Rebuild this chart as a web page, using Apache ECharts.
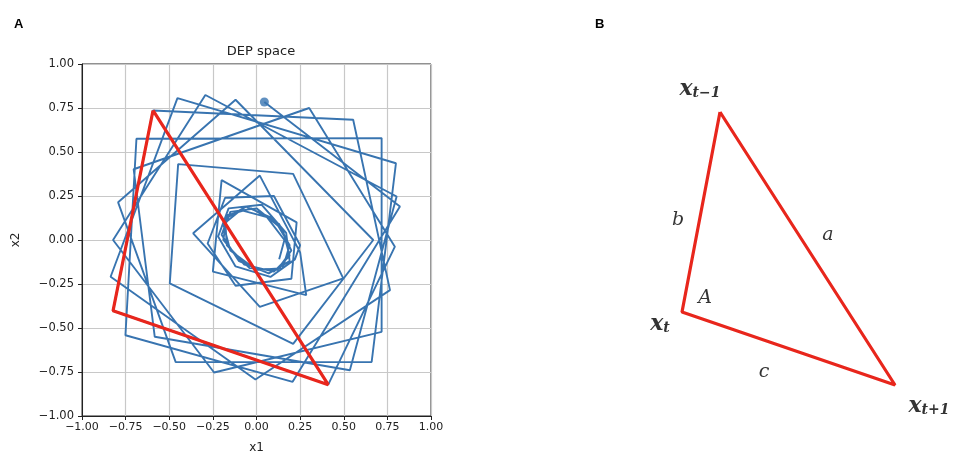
<!DOCTYPE html>
<html>
<head>
<meta charset="utf-8">
<script src="https://cdn.jsdelivr.net/npm/echarts@6/dist/echarts.min.js"></script>
<style>
  html, body { margin: 0; padding: 0; background: #fff; }
  #chart { width: 957px; height: 470px; }
</style>
</head>
<body>
<div id="chart"></div>
<script>
// panel A: trajectory in DEP space
// inner knot around the origin
const knotPts = [
  [0.13, -0.11], [0.16, 0.00], [0.06, 0.13], [-0.09, 0.17], [-0.19, 0.09],
  [-0.15, -0.06], [0.00, -0.17], [0.15, -0.16], [0.19, -0.03], [0.10, 0.12],
  [-0.06, 0.19], [-0.18, 0.12], [-0.17, -0.03], [-0.04, -0.16], [0.12, -0.17],
  [0.20, -0.06], [0.13, 0.09], [-0.03, 0.18], [-0.17, 0.14], [-0.19, 0.00],
  [-0.07, -0.14], [0.10, -0.18], [0.19, -0.09], [0.15, 0.06], [0.00, 0.18],
  [-0.15, 0.16], [-0.20, 0.03], [-0.10, -0.12], [0.07, -0.19], [0.19, -0.12],
  [0.17, 0.04], [0.03, 0.20], [-0.16, 0.18], [-0.22, 0.02], [-0.12, -0.15],
  [0.08, -0.21], [0.22, -0.11]
];
// middle rings
const midPts = [
  [0.25, -0.03], [0.10, 0.25], [-0.18, 0.24], [-0.28, -0.02], [-0.12, -0.26],
  [0.20, -0.22], [0.23, 0.10], [-0.20, 0.34], [-0.25, -0.18], [0.285, -0.313],
  [0.25, -0.07], [0.019, 0.366], [-0.363, 0.038], [0.019, -0.38],
  [0.497, -0.218], [0.21, 0.376], [-0.449, 0.431], [-0.497, -0.247],
  [0.21, -0.59], [0.669, 0.0]
];
// outer rings
const outerPts = [
  [-0.120, 0.797], [-0.793, 0.214], [-0.463, -0.694], [0.660, -0.693],
  [0.799, 0.436], [-0.453, 0.806], [-0.836, -0.209], [-0.006, -0.793],
  [0.765, -0.285], [0.554, 0.683], [-0.593, 0.736], [-0.822, -0.402],
  [0.411, -0.822], [0.793, -0.038], [0.302, 0.750], [-0.704, 0.402],
  [-0.583, -0.550], [0.535, -0.740], [0.803, 0.247], [-0.293, 0.824],
  [-0.822, 0.0], [-0.243, -0.753], [0.717, -0.522], [0.717, 0.579],
  [-0.688, 0.575], [-0.751, -0.541], [0.207, -0.806], [0.822, 0.190]
];
const endPt = [0.045, 0.784];
// red triangle x_{t-1}, x_t, x_{t+1} in DEP space
const redTri = [[-0.593, 0.736], [-0.822, -0.402], [0.411, -0.822], [-0.593, 0.736]];

// panel B: triangle sketch
const sketchTri = [[140, 52], [102, 252], [315, 325], [140, 52]];
const vertexLabels = [
  { pos: [120, 27], sub: 't−1' },
  { pos: [80, 262], sub: 't' },
  { pos: [349, 344], sub: 't+1' }
];
const sideLabels = [
  { pos: [98, 160], text: 'b' },
  { pos: [248, 175], text: 'a' },
  { pos: [125, 238], text: 'A' },
  { pos: [184, 312], text: 'c' }
];

const trajectory = knotPts.concat(midPts, outerPts, [endPt]);
const fmt = v => (v < 0 ? '\u2212' : '') + Math.abs(v).toFixed(2);
const mathFont = 'DejaVu Serif';
const blue = '#3874b0';
const red = '#e8261c';

const chart = echarts.init(document.getElementById('chart'));
const option = {
  animation: false,
  backgroundColor: '#fff',
  title: [
    { text: 'A', left: 9, top: 13, textStyle: { fontSize: 13, fontWeight: 'bold', color: '#000', fontFamily: 'Liberation Sans' } },
    { text: 'B', left: 590, top: 13, textStyle: { fontSize: 13, fontWeight: 'bold', color: '#000', fontFamily: 'Liberation Sans' } },
    { text: 'DEP space', left: 256, top: 40, textAlign: 'center', textStyle: { fontSize: 13, fontWeight: 'normal', color: '#222', fontFamily: 'DejaVu Sans' } }
  ],
  grid: [
    { left: 82, top: 64, width: 349, height: 352, containLabel: false, show: true, borderColor: '#222', borderWidth: 1, backgroundColor: 'transparent' },
    { left: 580, top: 60, width: 370, height: 360, containLabel: false }
  ],
  xAxis: [
    {
      gridIndex: 0, type: 'value', min: -1, max: 1, interval: 0.25,
      name: 'x1', nameLocation: 'middle', nameGap: 26,
      nameTextStyle: { fontSize: 12, color: '#222', fontFamily: 'DejaVu Sans' },
      axisLine: { show: true, onZero: false, lineStyle: { color: '#222' } },
      axisTick: { show: true, inside: false, length: 4, lineStyle: { color: '#222' } },
      axisLabel: { formatter: fmt, fontSize: 11, color: '#222', fontFamily: 'DejaVu Sans', margin: 6 },
      splitLine: { show: true, lineStyle: { color: '#c8c8c8', width: 1.2 } }
    },
    { gridIndex: 1, type: 'value', min: 0, max: 370, show: false }
  ],
  yAxis: [
    {
      gridIndex: 0, type: 'value', min: -1, max: 1, interval: 0.25,
      name: 'x2', nameLocation: 'middle', nameGap: 60, nameRotate: 90,
      nameTextStyle: { fontSize: 12, color: '#222', fontFamily: 'DejaVu Sans' },
      axisLine: { show: true, onZero: false, lineStyle: { color: '#222' } },
      axisTick: { show: true, inside: false, length: 4, lineStyle: { color: '#222' } },
      axisLabel: { formatter: fmt, fontSize: 11.5, color: '#222', fontFamily: 'DejaVu Sans', margin: 8 },
      splitLine: { show: true, lineStyle: { color: '#c8c8c8', width: 1.2 } }
    },
    { gridIndex: 1, type: 'value', min: 0, max: 360, inverse: true, show: false }
  ],
  series: [
    {
      type: 'line', xAxisIndex: 0, yAxisIndex: 0, data: trajectory,
      showSymbol: false, silent: true,
      lineStyle: { color: blue, width: 1.9 }
    },
    {
      type: 'scatter', xAxisIndex: 0, yAxisIndex: 0, data: [endPt],
      symbolSize: 9, itemStyle: { color: blue }
    },
    {
      type: 'line', xAxisIndex: 0, yAxisIndex: 0, data: redTri,
      showSymbol: false, silent: true,
      lineStyle: { color: red, width: 3.2 }
    },
    {
      type: 'line', xAxisIndex: 1, yAxisIndex: 1, data: sketchTri,
      showSymbol: false, silent: true,
      lineStyle: { color: red, width: 3.2 }
    },
    {
      type: 'scatter', xAxisIndex: 1, yAxisIndex: 1, symbolSize: 0,
      data: vertexLabels.map(d => ({ value: d.pos, sub: d.sub })),
      label: {
        show: true, position: 'inside',
        formatter: p => '{m|x}{s|' + p.data.sub + '}',
        rich: {
          m: { fontFamily: mathFont, fontStyle: 'italic', fontWeight: 'bold', fontSize: 22, color: '#000', verticalAlign: 'bottom', lineHeight: 26 },
          s: { fontFamily: mathFont, fontStyle: 'italic', fontWeight: 'bold', fontSize: 14, color: '#000', verticalAlign: 'bottom', lineHeight: 18 }
        }
      }
    },
    {
      type: 'scatter', xAxisIndex: 1, yAxisIndex: 1, symbolSize: 0,
      data: sideLabels.map(d => ({ value: d.pos, txt: d.text })),
      label: {
        show: true, position: 'inside',
        formatter: p => p.data.txt,
        fontFamily: mathFont, fontStyle: 'italic', fontSize: 19, color: '#000'
      }
    }
  ]
};
chart.setOption(option);
</script>
</body>
</html>
